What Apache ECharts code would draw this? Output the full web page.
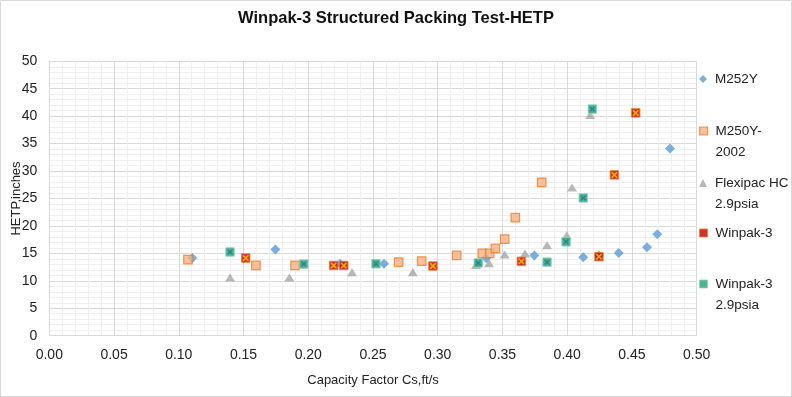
<!DOCTYPE html>
<html>
<head>
<meta charset="utf-8">
<script src="https://cdn.jsdelivr.net/npm/echarts@6/dist/echarts.min.js"></script>
<style>
  html, body { margin: 0; padding: 0; background: #fff; }
  #chart { width: 792px; height: 397px; }
</style>
</head>
<body>
<div id="chart"></div>
<script>
// values (x = capacity factor, y = HETP)
const m252yX = [0.1105, 0.1746, 0.2245, 0.2585, 0.3375, 0.3746, 0.4124, 0.4245, 0.4398, 0.4616, 0.4696, 0.4794]
const m252yY = [14.15, 15.7, 13.1, 13.1, 14.1, 14.6, 14.3, 14.6, 15.07, 16.1, 18.5, 34.1]

const m250yX = [0.1071, 0.1596, 0.1898, 0.2698, 0.2876, 0.3146, 0.3344, 0.3401, 0.3445, 0.3517, 0.3599, 0.3803]
const m250yY = [13.85, 12.8, 12.8, 13.4, 13.6, 14.65, 15.0, 15.0, 15.9, 17.6, 21.5, 27.95]

const flexX = [0.1396, 0.1854, 0.2338, 0.2807, 0.3295, 0.3396, 0.3517, 0.3674, 0.3844, 0.3996, 0.4037, 0.4178]
const flexY = [10.6, 10.6, 11.55, 11.55, 12.9, 13.2, 14.8, 15.0, 16.5, 18.3, 27.0, 40.2]

const winpakX = [0.1517, 0.2196, 0.2274, 0.2963, 0.3646, 0.4245, 0.4364, 0.4529]
const winpakY = [14.15, 12.8, 12.8, 12.7, 13.55, 14.4, 29.3, 40.6]

const winpakLpX = [0.1396, 0.1965, 0.2523, 0.3313, 0.3844, 0.3991, 0.4124, 0.4194]
const winpakLpY = [15.25, 13.05, 13.1, 13.25, 13.4, 17.1, 25.1, 41.3]

const seriesNames = ['M252Y', 'M250Y-2002', 'Flexipac HC 2.9psia', 'Winpak-3', 'Winpak-3 2.9psia']
const legendLabels = ['M252Y', 'M250Y-\n2002', 'Flexipac HC\n2.9psia', 'Winpak-3', 'Winpak-3\n2.9psia']
const legendIconY = [79, 131, 183, 233, 284]

const FONT = '"Liberation Sans", Arial, sans-serif'
const crossPath = 'path://M0,0 L2,0 L5,3 L8,0 L10,0 L10,2 L7,5 L10,8 L10,10 L8,10 L5,7 L2,10 L0,10 L0,8 L3,5 L0,2 Z'

const styles = [
  { color: '#5B9BD5' },
  { color: '#F4B183', borderColor: '#ED7D31', borderWidth: 1.2 },
  { color: '#A5A5A5' },
  { color: '#C00000', borderColor: '#ED7D31', borderWidth: 1 },
  { color: '#1FA274', borderColor: '#8FD6B8', borderWidth: 1 }
]
const icons = ['diamond', 'rect', 'triangle', 'rect', 'rect']

function pairs(xs, ys) {
  return xs.map((x, i) => [x, ys[i]])
}

// one small legend per entry; two-line labels get a blank first line
// so the marker sits level with the first line of text
const legends = seriesNames.map((name, i) => {
  const twoLines = legendLabels[i].indexOf('\n') >= 0
  return {
    orient: 'vertical',
    left: 699,
    top: legendIconY[i] - (twoLines ? 31.5 : 10.5),
    padding: 0,
    itemWidth: 8,
    itemHeight: 8,
    data: [{ name: name, icon: icons[i], itemStyle: styles[i] }],
    formatter: () => (twoLines ? ' \n' : '') + legendLabels[i],
    textStyle: {
      fontFamily: FONT,
      fontSize: 13.5,
      lineHeight: 21,
      color: '#222',
      padding: [0, 0, 0, 3]
    }
  }
})

const chart = echarts.init(document.getElementById('chart'))
chart.setOption({
  animation: false,
  backgroundColor: '#fff',
  title: {
    text: 'Winpak-3 Structured Packing Test-HETP',
    left: 'center',
    top: 8,
    padding: 0,
    textStyle: { fontFamily: FONT, fontSize: 16.5, fontWeight: 'bold', color: '#111', lineHeight: 20 }
  },
  legend: legends,
  grid: { left: 49.3, right: 95.3, top: 61.3, bottom: 61.3, containLabel: false, outerBoundsMode: 'none' },
  xAxis: {
    type: 'value',
    min: 0,
    max: 0.5,
    interval: 0.05,
    name: 'Capacity Factor Cs,ft/s',
    nameLocation: 'middle',
    nameGap: 38,
    nameMoveOverlap: false,
    nameTextStyle: { fontFamily: FONT, fontSize: 13, color: '#222' },
    axisLine: { show: true, lineStyle: { color: '#D9D9D9' } },
    axisTick: { show: false },
    axisLabel: {
      margin: 12,
      fontFamily: FONT,
      fontSize: 14,
      color: '#222',
      formatter: v => v.toFixed(2)
    },
    splitLine: { show: true, lineStyle: { color: '#D9D9D9' } },
    minorTick: { show: false, splitNumber: 5 },
    minorSplitLine: { show: true, lineStyle: { color: '#EFEFEF' } }
  },
  yAxis: {
    type: 'value',
    min: 0,
    max: 50,
    interval: 5,
    name: 'HETP,inches',
    nameLocation: 'middle',
    nameGap: 26,
    nameMoveOverlap: false,
    nameTextStyle: { fontFamily: FONT, fontSize: 13, color: '#222' },
    axisLine: { show: false },
    axisTick: { show: false },
    axisLabel: { margin: 12, fontFamily: FONT, fontSize: 14, color: '#222' },
    splitLine: { show: true, lineStyle: { color: '#D9D9D9' } },
    minorTick: { show: false, splitNumber: 5 },
    minorSplitLine: { show: true, lineStyle: { color: '#EFEFEF' } }
  },
  graphic: [{
    type: 'rect',
    shape: { x: 0.5, y: 0.5, width: 791, height: 396 },
    style: { fill: 'none', stroke: '#D9D9D9', lineWidth: 1 },
    silent: true
  }],
  series: [
    {
      name: seriesNames[0],
      type: 'scatter',
      symbol: 'diamond',
      symbolSize: 10,
      itemStyle: styles[0],
      data: pairs(m252yX, m252yY)
    },
    {
      name: seriesNames[1],
      type: 'scatter',
      symbol: 'rect',
      symbolSize: 8.5,
      itemStyle: styles[1],
      data: pairs(m250yX, m250yY)
    },
    {
      name: seriesNames[2],
      type: 'scatter',
      symbol: 'triangle',
      symbolSize: [10, 8],
      itemStyle: styles[2],
      data: pairs(flexX, flexY)
    },
    {
      name: seriesNames[3],
      type: 'scatter',
      symbol: 'rect',
      symbolSize: 8.5,
      itemStyle: styles[3],
      data: pairs(winpakX, winpakY)
    },
    {
      // the cross drawn inside the Winpak-3 squares
      name: seriesNames[3],
      type: 'scatter',
      symbol: crossPath,
      symbolSize: 6,
      itemStyle: { color: '#FFC000' },
      data: pairs(winpakX, winpakY)
    },
    {
      name: seriesNames[4],
      type: 'scatter',
      symbol: 'rect',
      symbolSize: 8.5,
      itemStyle: styles[4],
      data: pairs(winpakLpX, winpakLpY)
    },
    {
      name: seriesNames[4],
      type: 'scatter',
      symbol: crossPath,
      symbolSize: 5,
      itemStyle: { color: '#2E6FA0' },
      data: pairs(winpakLpX, winpakLpY)
    }
  ]
})
</script>
</body>
</html>
